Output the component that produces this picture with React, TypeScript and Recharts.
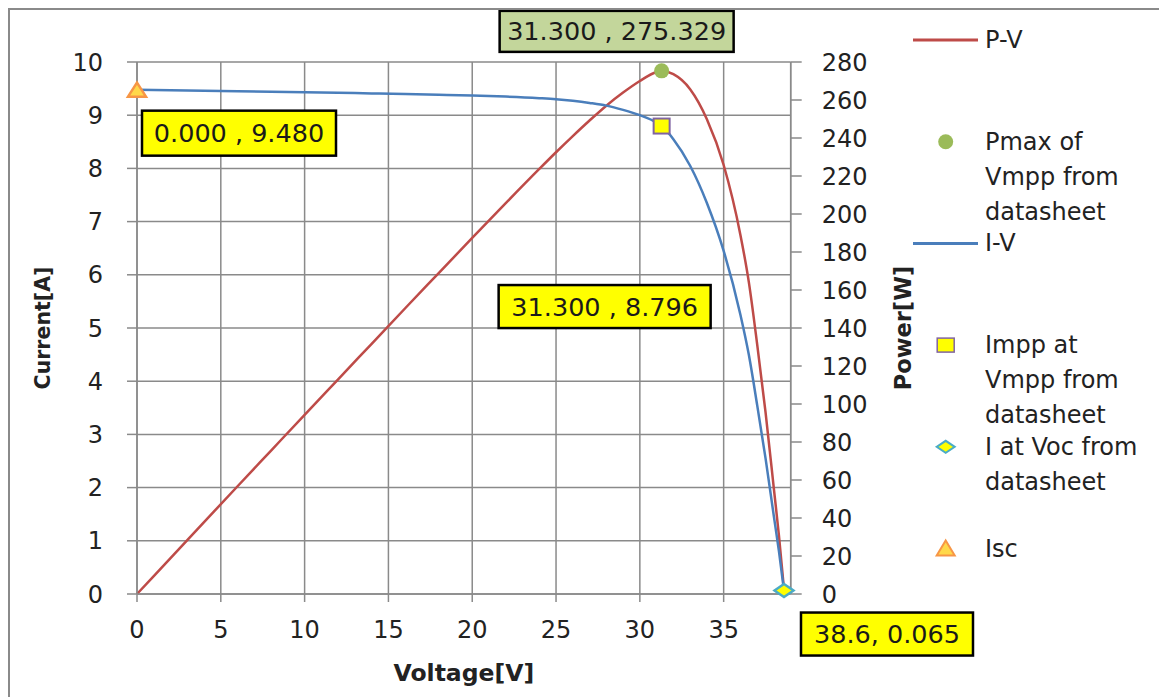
import React from 'react';
import { ComposedChart, Line, Scatter, XAxis, YAxis, CartesianGrid, Legend } from 'recharts';

// ---- data ----
const VOLTAGE = [0, 2, 4, 6, 8, 10, 12, 14, 16, 18, 20, 22, 24, 25, 26, 27, 28, 29, 30, 31, 31.3, 32, 33, 34, 35, 36, 36.5, 37, 37.5, 38, 38.3, 38.6];
const CURRENT = [9.48, 9.47, 9.46, 9.45, 9.44, 9.43, 9.42, 9.41, 9.4, 9.385, 9.37, 9.35, 9.32, 9.3, 9.27, 9.23, 9.18, 9.1, 9.0, 8.86, 8.796, 8.55, 8.05, 7.35, 6.45, 5.25, 4.5, 3.55, 2.55, 1.45, 0.8, 0.065];
const POWER = [0, 18.9, 37.8, 56.7, 75.5, 94.3, 113.0, 131.7, 150.4, 168.9, 187.4, 205.7, 223.7, 232.5, 241.0, 249.2, 257.0, 263.9, 270.0, 274.7, 275.329, 273.6, 265.7, 249.9, 225.8, 189.0, 164.3, 131.4, 95.6, 55.1, 30.6, 2.5];

const X_TICKS = [0, 5, 10, 15, 20, 25, 30, 35];
const CURRENT_TICKS = [0, 1, 2, 3, 4, 5, 6, 7, 8, 9, 10];
const POWER_TICKS = [0, 20, 40, 60, 80, 100, 120, 140, 160, 180, 200, 220, 240, 260, 280];

const PMAX_POINT = [{ v: 31.3, p: 275.329 }];
const IMPP_POINT = [{ v: 31.3, i: 8.796 }];
const VOC_POINT = [{ v: 38.6, i: 0.065 }];
const ISC_POINT = [{ v: 0, i: 9.48 }];

const SERIES_NAMES = ['P-V', 'Pmax of Vmpp from datasheet', 'I-V', 'Impp at Vmpp from datasheet', 'I at Voc from datasheet', 'Isc'];

const DATA = VOLTAGE.map((v, k) => ({ v, i: CURRENT[k], p: POWER[k] }));

// ---- styles ----
const FONT = '"DejaVu Sans", sans-serif';
const RED = '#be4b48';
const BLUE = '#4a7ebb';
const GREEN = '#9bbb59';
const GRID = '#8a8a8a';
const TEXT = '#222222';

const f3 = (n: number) => n.toFixed(3);

function DataBox({ cx, cy, dx, dy, w, h, fill, text }: any) {
  const x = cx + dx;
  const y = cy + dy;
  return (
    <g>
      <rect x={x} y={y} width={w} height={h} fill={fill} stroke="#000" strokeWidth={2.5} />
      <text x={x + w / 2} y={y + h / 2} textAnchor="middle" dominantBaseline="central" fontSize={25.5} fill="#1a1a1a" fontFamily={FONT}>
        {text}
      </text>
    </g>
  );
}

const pmaxShape = (p: any) => (
  <g>
    <DataBox cx={p.cx} cy={p.cy} dx={-162} dy={-60} w={234} h={41} fill="#c3d69b" text={`${f3(p.payload.v)} , ${f3(p.payload.p)}`} />
    <circle cx={p.cx} cy={p.cy} r={7.5} fill={GREEN} />
  </g>
);

const imppShape = (p: any) => (
  <g>
    <DataBox cx={p.cx} cy={p.cy} dx={-163} dy={159} w={212} h={43} fill="#ffff00" text={`${f3(p.payload.v)} , ${f3(p.payload.i)}`} />
    <rect x={p.cx - 8} y={p.cy - 7.5} width={16} height={15} fill="#ffff00" stroke="#8064a2" strokeWidth={2} />
  </g>
);

const vocShape = (p: any) => (
  <g>
    <DataBox cx={p.cx} cy={p.cy} dx={17} dy={22} w={172} h={43} fill="#ffff00" text={`${p.payload.v.toFixed(1)}, ${f3(p.payload.i)}`} />
    <polygon points={`${p.cx - 9.5},${p.cy} ${p.cx},${p.cy - 6.5} ${p.cx + 9.5},${p.cy} ${p.cx},${p.cy + 6.5}`} fill="#ffff00" stroke="#4bacc6" strokeWidth={2.5} />
  </g>
);

const iscShape = (p: any) => (
  <g>
    <DataBox cx={p.cx} cy={p.cy} dx={5} dy={21} w={194} h={45} fill="#ffff00" text={`${f3(p.payload.v)} , ${f3(p.payload.i)}`} />
    <polygon points={`${p.cx},${p.cy - 7} ${p.cx + 9},${p.cy + 7} ${p.cx - 9},${p.cy + 7}`} fill="#ffd84a" stroke="#f79646" strokeWidth={2.5} />
  </g>
);

const vbOf = (props: any) => props.viewBox || props;

const leftTitle = (props: any) => {
  const vb = vbOf(props);
  const x = vb.x - 4;
  const y = vb.y + vb.height / 2;
  return (
    <text x={x} y={y} transform={`rotate(-90, ${x}, ${y})`} textAnchor="middle" dominantBaseline="central" fontSize={20.5} fontWeight="bold" fill={TEXT} fontFamily={FONT}>
      Current[A]
    </text>
  );
};

const rightTitle = (props: any) => {
  const vb = vbOf(props);
  const x = vb.x + 112;
  const y = vb.y + vb.height / 2;
  return (
    <text x={x} y={y} transform={`rotate(-90, ${x}, ${y})`} textAnchor="middle" dominantBaseline="central" fontSize={22.5} fontWeight="bold" fill={TEXT} fontFamily={FONT}>
      Power[W]
    </text>
  );
};

const bottomTitle = (props: any) => {
  const vb = vbOf(props);
  return (
    <text x={vb.x + vb.width / 2} y={vb.y + 79} textAnchor="middle" dominantBaseline="central" fontSize={23.5} fontWeight="bold" fill={TEXT} fontFamily={FONT}>
      Voltage[V]
    </text>
  );
};

const LEGEND_ITEMS = [
  { kind: 'line', color: RED, lines: ['P-V'] },
  { kind: 'circle', lines: ['Pmax of', 'Vmpp from', 'datasheet'] },
  { kind: 'line', color: BLUE, lines: ['I-V'] },
  { kind: 'square', lines: ['Impp at', 'Vmpp from', 'datasheet'] },
  { kind: 'diamond', lines: ['I at Voc from', 'datasheet'] },
  { kind: 'triangle', lines: ['Isc'] },
];

const renderLegend = () => (
  <svg width={257} height={600} style={{ display: 'block', overflow: 'visible' }}>
    {LEGEND_ITEMS.map((it, k) => {
      const y = 30 + k * 101.7;
      const cx = 35.7;
      let icon: any = null;
      if (it.kind === 'line') icon = <line x1={3} x2={68} y1={y} y2={y} stroke={it.color} strokeWidth={3} />;
      if (it.kind === 'circle') icon = <circle cx={cx} cy={y} r={7.5} fill={GREEN} />;
      if (it.kind === 'square') icon = <rect x={cx - 8.5} y={y - 7} width={17} height={14} fill="#ffff00" stroke="#8064a2" strokeWidth={1.5} />;
      if (it.kind === 'diamond') icon = <polygon points={`${cx - 9},${y} ${cx},${y - 6} ${cx + 9},${y} ${cx},${y + 6}`} fill="#ffff00" stroke="#4bacc6" strokeWidth={2} />;
      if (it.kind === 'triangle') icon = <polygon points={`${cx},${y - 8} ${cx + 9},${y + 7} ${cx - 9},${y + 7}`} fill="#ffd84a" stroke="#f79646" strokeWidth={2} />;
      return (
        <g key={k}>
          <title>{SERIES_NAMES[k]}</title>
          {icon}
          {it.lines.map((t, j) => (
            <text key={j} x={75} y={y + j * 35} dominantBaseline="central" fontSize={24} fill={TEXT} fontFamily={FONT}>
              {t}
            </text>
          ))}
        </g>
      );
    })}
  </svg>
);

const axisLine = { stroke: GRID, strokeWidth: 1.5 };
const tickStyle = { fill: TEXT, fontSize: 24, fontFamily: FONT };

export default function App() {
  return (
    <div
      style={{
        position: 'relative',
        width: 1159,
        height: 689,
        boxSizing: 'border-box',
        borderTop: '2.5px solid #8a8a8a',
        borderLeft: '2.5px solid #8a8a8a',
        background: '#fff',
        overflow: 'hidden',
      }}
    >
      <div style={{ position: 'absolute', left: -0.5, top: -0.5 }}>
        <ComposedChart
          width={1157}
          height={687}
          data={DATA}
          margin={{ top: 52, right: 296.3, bottom: 13, left: 37 }}
          style={{ fontFamily: FONT, overflow: 'visible' }}
        >
          <CartesianGrid yAxisId="left" stroke={GRID} strokeWidth={1.5} />
          <XAxis
            type="number"
            dataKey="v"
            domain={[0, 39]}
            ticks={X_TICKS}
            interval={0}
            height={90}
            tickSize={8}
            tickMargin={19}
            axisLine={axisLine}
            tickLine={axisLine}
            tick={tickStyle}
            label={bottomTitle}
          />
          <YAxis
            yAxisId="left"
            type="number"
            domain={[0, 10]}
            ticks={CURRENT_TICKS}
            interval={0}
            width={90}
            tickSize={10}
            tickMargin={24}
            axisLine={axisLine}
            tickLine={axisLine}
            tick={tickStyle}
            label={leftTitle}
          />
          <YAxis
            yAxisId="right"
            orientation="right"
            type="number"
            domain={[0, 280]}
            ticks={POWER_TICKS}
            interval={0}
            width={80}
            tickSize={11}
            tickMargin={20}
            axisLine={axisLine}
            tickLine={axisLine}
            tick={tickStyle}
            label={rightTitle}
          />
          <Line yAxisId="right" name={SERIES_NAMES[0]} dataKey="p" type="monotone" stroke={RED} strokeWidth={2.5} dot={false} activeDot={false} isAnimationActive={false} />
          <Line yAxisId="left" name={SERIES_NAMES[2]} dataKey="i" type="monotone" stroke={BLUE} strokeWidth={2.5} dot={false} activeDot={false} isAnimationActive={false} />
          <Scatter yAxisId="right" name={SERIES_NAMES[1]} data={PMAX_POINT} dataKey="p" shape={pmaxShape} isAnimationActive={false} />
          <Scatter yAxisId="left" name={SERIES_NAMES[3]} data={IMPP_POINT} dataKey="i" shape={imppShape} isAnimationActive={false} />
          <Scatter yAxisId="left" name={SERIES_NAMES[4]} data={VOC_POINT} dataKey="i" shape={vocShape} isAnimationActive={false} />
          <Scatter yAxisId="left" name={SERIES_NAMES[5]} data={ISC_POINT} dataKey="i" shape={iscShape} isAnimationActive={false} />
          <Legend
            layout="vertical"
            align="center"
            verticalAlign="middle"
            wrapperStyle={{ left: 900, top: 0, width: 257, height: 600 }}
            content={renderLegend}
          />
        </ComposedChart>
      </div>
    </div>
  );
}
